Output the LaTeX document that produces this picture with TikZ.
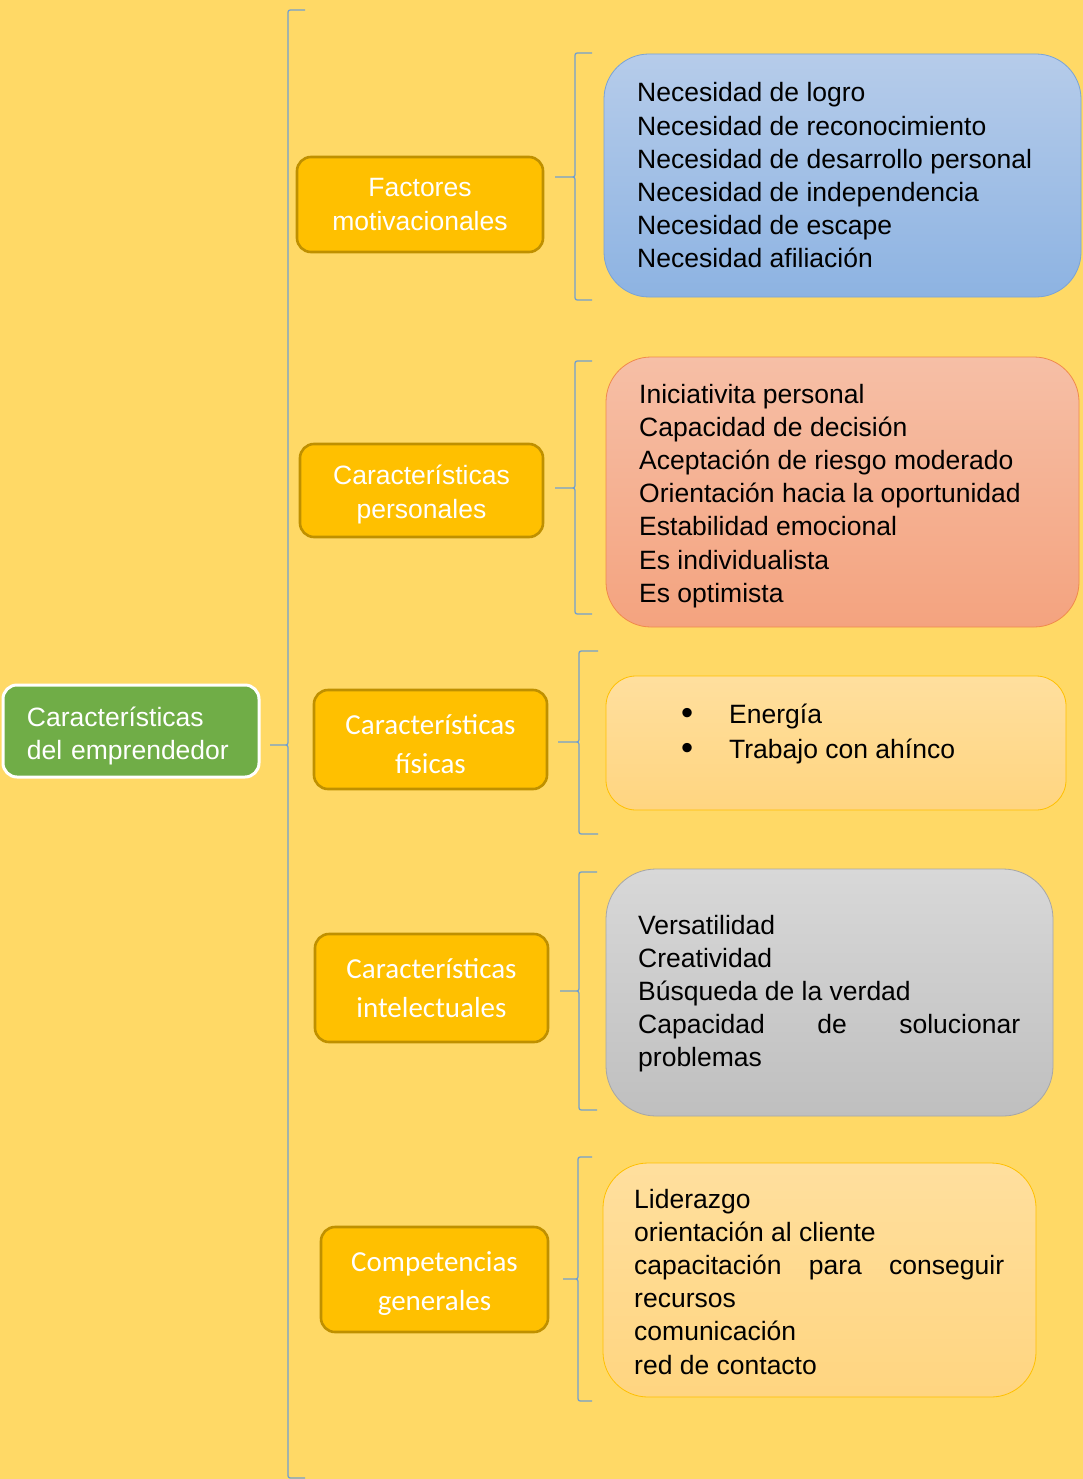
\documentclass[tikz,border=0pt]{standalone}
\usepackage{fontspec}
\setmainfont{Liberation Sans}
\newfontfamily\calibrifont{Carlito}
\definecolor{bg}{HTML}{FFD966}
\definecolor{rootfill}{HTML}{70AD47}
\definecolor{orgfill}{HTML}{FFC000}
\definecolor{orgline}{HTML}{BF9000}
\definecolor{bracec}{RGB}{115,160,205}
\definecolor{blueT}{HTML}{B6CCEA}
\definecolor{blueB}{HTML}{8DB3E2}
\definecolor{blueL}{HTML}{7AA3D6}
\definecolor{redT}{HTML}{F6BFA6}
\definecolor{redB}{HTML}{F4A37F}
\definecolor{redL}{HTML}{F08A4B}
\definecolor{ltT}{HTML}{FFDF9E}
\definecolor{ltB}{HTML}{FFD580}
\definecolor{ltL}{HTML}{FFC000}
\definecolor{grT}{HTML}{D8D8D8}
\definecolor{grB}{HTML}{BFBFBF}
\definecolor{grL}{HTML}{A6A6A6}
\newcommand\bracepath[6]{%
  \draw[brace] (#6,#4) -- (#3+5,#4) .. controls (#3,#4) .. (#3,#4+5)
    -- (#3,#2-5) .. controls (#3,#2) .. (#3-5,#2) -- (#1,#2)
    -- (#3-5,#2) .. controls (#3,#2) .. (#3,#2+5)
    -- (#3,#5-5) .. controls (#3,#5) .. (#3+5,#5) -- (#6,#5);}
\newcommand\txtsize{\fontsize{26.5pt}{33.2pt}\selectfont}
\newcommand\bigbullet{\raisebox{-1.2pt}{\scalebox{1.3}{\textbullet}}}
\begin{document}
\begin{tikzpicture}[x=1pt,y=-1pt,
  brace/.style={draw=bracec, line width=1.3pt},
  rootbox/.style={draw=white, fill=rootfill, line width=3pt, rounded corners=14pt},
  roottxt/.style={text=white, align=left, inner sep=0pt, text width=208pt,
    font=\fontsize{26.5pt}{33pt}\selectfont},
  cat/.style={draw=orgline, fill=orgfill, line width=2.6pt, rounded corners=14pt,
    inner sep=0pt},
  cattxt/.style={text=white, align=center, inner sep=0pt},
  arialtxt/.style={cattxt, font=\fontsize{26.5pt}{34pt}\selectfont},
  caltxt/.style={cattxt, font=\calibrifont\fontsize{29pt}{39pt}\selectfont},
  listbox/.style={line width=0.8pt, inner sep=0pt},
  listtxt/.style={anchor=base west, inner sep=0pt, text=black}]
\useasboundingbox (0,0) rectangle (1083,1479);
\fill[bg] (0,0) rectangle (1083,1479);

% root
\node[rootbox, minimum width=256pt, minimum height=92pt] (root) at (131,731) {};
\node[roottxt, yshift=-5pt] (roottext) at (root.center)
  {Características\\del emprendedor};

% category nodes
\node[cat, minimum width=246pt, minimum height=95pt] (c1) at (420,204.5) {};
\node[arialtxt] (c1t) at (c1.center) {Factores\\motivacionales};
\node[cat, minimum width=243pt, minimum height=93pt] (c2) at (421.5,490.5) {};
\node[arialtxt, yshift=-3.5pt] (c2t) at (c2.center) {Características\\personales};
\node[cat, minimum width=233pt, minimum height=99pt] (c3) at (430.5,739.5) {};
\node[caltxt, yshift=-5pt] (c3t) at (c3.center) {Características\\físicas};
\node[cat, minimum width=233pt, minimum height=108pt] (c4) at (431.5,988) {};
\node[caltxt] (c4t) at (c4.center) {Características\\intelectuales};
\node[cat, minimum width=227pt, minimum height=105pt] (c5) at (434.5,1279.5) {};
\node[caltxt, yshift=-4pt] (c5t) at (c5.center) {Competencias\\generales};

% content boxes
\node[listbox, draw=blueL, top color=blueT, bottom color=blueB, rounded corners=45pt,
  minimum width=477pt, minimum height=243pt] (l1) at (842.5,175.5) {};
\node[listbox, draw=redL, top color=redT, bottom color=redB, rounded corners=45pt,
  minimum width=473pt, minimum height=270pt] (l2) at (842.5,492) {};
\node[listbox, draw=ltL, top color=ltT, bottom color=ltB, rounded corners=30pt,
  minimum width=460pt, minimum height=134pt] (l3) at (836,743) {};
\node[listbox, draw=grL, top color=grT, bottom color=grB, rounded corners=50pt,
  minimum width=447pt, minimum height=247pt] (l4) at (829.5,992.5) {};
\node[listbox, draw=ltL, top color=ltT, bottom color=ltB, rounded corners=45pt,
  minimum width=433pt, minimum height=234pt] (l5) at (819.5,1280) {};

% texts
\node[listtxt] (t1) at (637,102) {\parbox[t]{430pt}{\txtsize
  Necesidad de logro\\
  Necesidad de reconocimiento\\
  Necesidad de desarrollo personal\\
  Necesidad de independencia\\
  Necesidad de escape\\
  Necesidad afiliación}};
\node[listtxt] (t2) at (639,403) {\parbox[t]{430pt}{\txtsize
  Iniciativita personal\\
  Capacidad de decisión\\
  Aceptación de riesgo moderado\\
  Orientación hacia la oportunidad\\
  Estabilidad emocional\\
  Es individualista\\
  Es optimista}};
\node[listtxt] (t3) at (681,723) {\parbox[t]{380pt}{\fontsize{26.5pt}{35pt}\selectfont
  \makebox[48pt][l]{\bigbullet}Energía\\
  \makebox[48pt][l]{\bigbullet}Trabajo con ahínco}};
\node[listtxt] (t4) at (638,934) {\parbox[t]{382pt}{\txtsize
  Versatilidad\\
  Creatividad\\
  Búsqueda de la verdad\\
  \makebox[382pt][s]{Capacidad de solucionar}\\
  problemas}};
\node[listtxt] (t5) at (634,1208) {\parbox[t]{370pt}{\txtsize
  Liderazgo\\
  orientación al cliente\\
  \makebox[370pt][s]{capacitación para conseguir}\\
  recursos\\
  comunicación\\
  red de contacto}};

% braces
\coordinate (b0) at (270,745);
\bracepath{270}{745}{288}{10}{1478}{305}
\coordinate (b1) at (555,177);
\bracepath{555}{177}{575}{53}{300}{592}
\coordinate (b2) at (555,488);
\bracepath{555}{488}{575}{361}{614}{592}
\coordinate (b3) at (558,742);
\bracepath{558}{742}{579}{651}{834}{598}
\coordinate (b4) at (560,991);
\bracepath{560}{991}{579}{872}{1110}{597}
\coordinate (b5) at (563,1279);
\bracepath{563}{1279}{578}{1157}{1401}{592}
\end{tikzpicture}
\end{document}
